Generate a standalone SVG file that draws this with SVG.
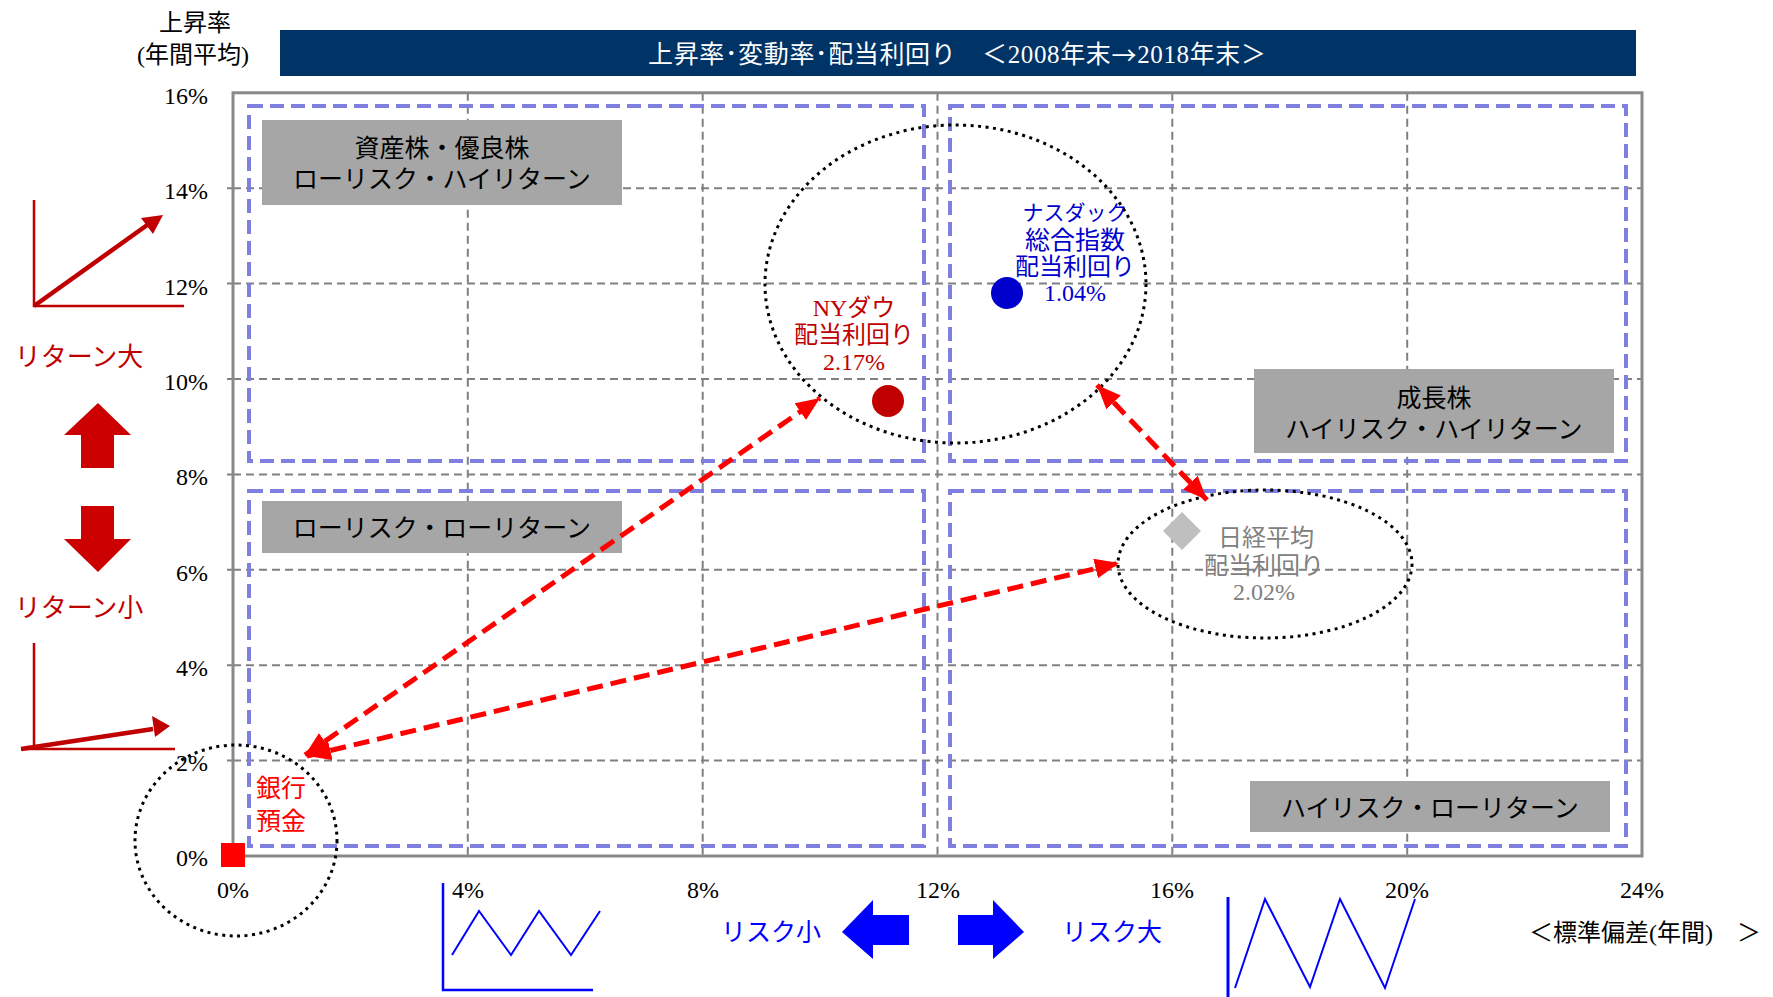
<svg xmlns="http://www.w3.org/2000/svg" width="1773" height="997" viewBox="0 0 1773 997">
<style>
text{font-family:"Liberation Serif","Noto Sans CJK JP",serif;}
.ax{font-size:24px;fill:#000;}
.grid{stroke:#808080;stroke-width:2;stroke-dasharray:8 5;fill:none;}
.quad{fill:none;stroke:#7F7FE0;stroke-width:4;stroke-dasharray:14 7;}
.gbox{fill:#A6A6A6;}
.gtxt{font-size:25px;fill:#000;text-anchor:middle;dominant-baseline:central;}
.dot{fill:none;stroke:#000;stroke-width:3;stroke-dasharray:3 4.5;}
.conn{fill:none;stroke:#FF0000;stroke-width:5;stroke-dasharray:16 8;}
.c{text-anchor:middle;dominant-baseline:central;}
.cjk{font-family:"Noto Sans CJK JP",sans-serif;}
</style>
<defs>
<marker id="ah" viewBox="0 0 24 20" refX="24" refY="10" markerWidth="24" markerHeight="20" markerUnits="userSpaceOnUse" orient="auto-start-reverse">
<path d="M0,0 L24,10 L0,20 Z" fill="#FF0000"/>
</marker>
</defs>
<rect width="1773" height="997" fill="#fff"/>

<g id="title">
<rect x="280" y="30" width="1356" height="46" fill="#003366"/>
<text x="648" y="54" font-size="25" fill="#fff" dominant-baseline="central" textLength="618" lengthAdjust="spacing">上昇率･変動率･配当利回り　＜2008年末<tspan class="cjk">→</tspan>2018年末＞</text>
</g>

<g id="y-axis-title">
<text x="195" y="23" class="c" font-size="24">上昇率</text>
<text x="193" y="55" class="c" font-size="24">(年間平均)</text>
</g>

<g id="plot">
<g class="grid">
<path d="M233,760.6H1642M233,665.2H1642M233,569.8H1642M233,474.4H1642M233,379H1642M233,283.6H1642M233,188.2H1642"/>
<path d="M467.8,92.8V856M702.7,92.8V856M937.5,92.8V856M1172.3,92.8V856M1407.2,92.8V856"/>
</g>
<path d="M227,760.6H233M227,665.2H233M227,569.8H233M227,474.4H233M227,379H233M227,283.6H233M227,188.2H233" stroke="#808080" stroke-width="2"/>
<rect x="233" y="92.8" width="1409" height="763.2" fill="none" stroke="#898989" stroke-width="3"/>
</g>

<g id="y-ticks" class="ax" text-anchor="end" dominant-baseline="central">
<text x="208" y="96">16%</text>
<text x="208" y="191">14%</text>
<text x="208" y="287">12%</text>
<text x="208" y="382">10%</text>
<text x="208" y="477">8%</text>
<text x="208" y="573">6%</text>
<text x="208" y="668">4%</text>
<text x="208" y="763">2%</text>
<text x="208" y="858">0%</text>
</g>

<g id="x-ticks" class="ax" text-anchor="middle" dominant-baseline="central">
<text x="233" y="890">0%</text>
<text x="468" y="890">4%</text>
<text x="703" y="890">8%</text>
<text x="938" y="890">12%</text>
<text x="1172" y="890">16%</text>
<text x="1407" y="890">20%</text>
<text x="1642" y="890">24%</text>
</g>
<text id="x-axis-title" x="1645" y="933" class="c" font-size="24">＜標準偏差(年間)　＞</text>

<g id="quadrants">
<rect class="quad" x="249" y="106" width="675" height="355"/>
<rect class="quad" x="950" y="106" width="676" height="355"/>
<rect class="quad" x="249" y="491" width="675" height="355"/>
<rect class="quad" x="950" y="491" width="676" height="355"/>
</g>

<g id="box-low-risk-high-return">
<rect class="gbox" x="262" y="120" width="360" height="85"/>
<text class="gtxt" x="442" y="148">資産株・優良株</text>
<text class="gtxt" x="442" y="179">ローリスク・ハイリターン</text>
</g>
<g id="box-low-risk-low-return">
<rect class="gbox" x="262" y="501" width="360" height="52"/>
<text class="gtxt" x="442" y="528">ローリスク・ローリターン</text>
</g>
<g id="box-high-risk-high-return">
<rect class="gbox" x="1254" y="369" width="360" height="84"/>
<text class="gtxt" x="1434" y="398">成長株</text>
<text class="gtxt" x="1434" y="429">ハイリスク・ハイリターン</text>
</g>
<g id="box-high-risk-low-return">
<rect class="gbox" x="1250" y="781" width="360" height="51"/>
<text class="gtxt" x="1430" y="808">ハイリスク・ローリターン</text>
</g>

<g id="ellipse-us">
<ellipse class="dot" cx="955.5" cy="284" rx="190.5" ry="159"/>
</g>
<g id="ellipse-nikkei">
<ellipse class="dot" cx="1265" cy="564" rx="147" ry="74"/>
</g>
<g id="ellipse-bank">
<ellipse class="dot" cx="236" cy="840.5" rx="101" ry="95.5"/>
</g>

<g id="ny-dow">
<circle cx="888" cy="401" r="16" fill="#C00000"/>
<g class="c" fill="#C00000" font-size="24">
<text x="854" y="308">NYダウ</text>
<text x="854" y="335">配当利回り</text>
<text x="854" y="362">2.17%</text>
</g>
</g>

<g id="nasdaq">
<circle cx="1007" cy="293" r="16" fill="#0000CC"/>
<g class="c" fill="#0000CC">
<text x="1075" y="213" font-size="21">ナスダック</text>
<text x="1075" y="240" font-size="25">総合指数</text>
<text x="1075" y="267" font-size="24">配当利回り</text>
<text x="1075" y="293" font-size="24">1.04%</text>
</g>
</g>

<g id="nikkei">
<path d="M1182,512 L1201,531 L1182,550 L1163,531 Z" fill="#BFBFBF"/>
<g class="c" fill="#808080" font-size="24">
<text x="1266" y="538">日経平均</text>
<text x="1264" y="566">配当利回り</text>
<text x="1264" y="592">2.02%</text>
</g>
</g>

<g id="bank-deposit">
<rect x="221" y="843" width="24" height="24" fill="#FF0000"/>
<g fill="#FF0000" font-size="25" dominant-baseline="central">
<text x="256" y="788">銀行</text>
<text x="256" y="821">預金</text>
</g>
</g>

<g id="connectors">
<path class="conn" d="M305,755 L820,398" marker-start="url(#ah)" marker-end="url(#ah)"/>
<path class="conn" d="M307,756 L1119,563" marker-start="url(#ah)" marker-end="url(#ah)"/>
<path class="conn" d="M1097,385 L1207,500" marker-start="url(#ah)" marker-end="url(#ah)"/>
</g>

<g id="return-legend">
<g stroke="#C00000" fill="none">
<path d="M34,200 V306 H184" stroke-width="2.5"/>
<path d="M34,306 L150,223" stroke-width="4.5"/>
<path d="M34,749 V643 M21,749 H175" stroke-width="2.5"/>
<path d="M21,749 L153,729" stroke-width="4.5"/>
</g>
<path d="M163,215 L141,218 L153,234 Z" fill="#C00000"/>
<path d="M170,726 L152,716 L155,737 Z" fill="#C00000"/>
<text x="79" y="357" class="c" font-size="26" fill="#C00000">リターン大</text>
<text x="79" y="608" class="c" font-size="26" fill="#C00000">リターン小</text>
<path d="M98,403 L131,435 L114,435 L114,468 L81,468 L81,435 L64,435 Z" fill="#CC0000"/>
<path d="M98,572 L131,539 L114,539 L114,506 L81,506 L81,539 L64,539 Z" fill="#CC0000"/>
</g>

<g id="risk-legend">
<path d="M443,883 V990 H593" stroke="#0000FF" stroke-width="2.5" fill="none"/>
<path d="M452,955 L479,911 L511,955 L539,911 L571,955 L600,911" stroke="#0000FF" stroke-width="2" fill="none"/>
<path d="M1228,897 V997" stroke="#0000FF" stroke-width="3" fill="none"/>
<path d="M1235,988 L1265,899 L1310,987 L1340,899 L1385,988 L1415,899" stroke="#0000FF" stroke-width="2" fill="none"/>
<text x="771" y="932" class="c" font-size="25" fill="#0000FF">リスク小</text>
<text x="1112" y="932" class="c" font-size="25" fill="#0000FF">リスク大</text>
<path d="M842,932 L873,900 L873,915 L909,915 L909,945 L873,945 L873,959 Z" fill="#0000FF"/>
<path d="M1024,932 L993,900 L993,915 L958,915 L958,945 L993,945 L993,959 Z" fill="#0000FF"/>
</g>
</svg>
